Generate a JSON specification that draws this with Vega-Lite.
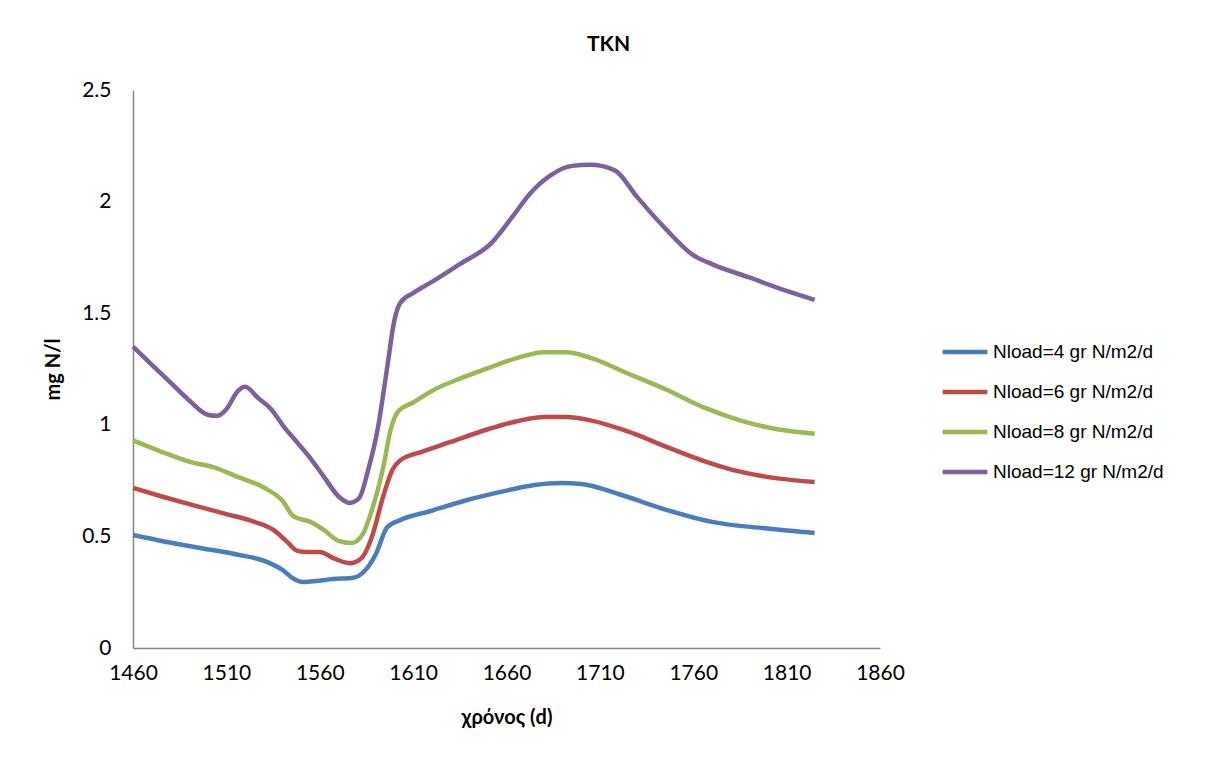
{
  "$schema": "https://vega.github.io/schema/vega-lite/v6.json",
  "width": 747,
  "height": 558,
  "autosize": "none",
  "padding": {"left": 133, "top": 90, "right": 333, "bottom": 111},
  "background": "white",
  "title": {"text": "TKN", "font": "Lato", "fontSize": 21, "fontWeight": "bold", "color": "#000000", "anchor": "middle", "dx": 102, "offset": 24},
  "datasets": {
    "tkn": [
      {"s": "Nload=4 gr N/m2/d", "d": 1460, "v": 0.506},
      {"s": "Nload=4 gr N/m2/d", "d": 1478, "v": 0.475},
      {"s": "Nload=4 gr N/m2/d", "d": 1496, "v": 0.448},
      {"s": "Nload=4 gr N/m2/d", "d": 1515, "v": 0.42},
      {"s": "Nload=4 gr N/m2/d", "d": 1532, "v": 0.385},
      {"s": "Nload=4 gr N/m2/d", "d": 1540, "v": 0.35},
      {"s": "Nload=4 gr N/m2/d", "d": 1546, "v": 0.31},
      {"s": "Nload=4 gr N/m2/d", "d": 1551, "v": 0.296},
      {"s": "Nload=4 gr N/m2/d", "d": 1558, "v": 0.3},
      {"s": "Nload=4 gr N/m2/d", "d": 1567, "v": 0.309},
      {"s": "Nload=4 gr N/m2/d", "d": 1578, "v": 0.315},
      {"s": "Nload=4 gr N/m2/d", "d": 1584, "v": 0.345},
      {"s": "Nload=4 gr N/m2/d", "d": 1590, "v": 0.42},
      {"s": "Nload=4 gr N/m2/d", "d": 1596, "v": 0.54},
      {"s": "Nload=4 gr N/m2/d", "d": 1603, "v": 0.573},
      {"s": "Nload=4 gr N/m2/d", "d": 1620, "v": 0.615},
      {"s": "Nload=4 gr N/m2/d", "d": 1639, "v": 0.663},
      {"s": "Nload=4 gr N/m2/d", "d": 1660, "v": 0.705},
      {"s": "Nload=4 gr N/m2/d", "d": 1675, "v": 0.73},
      {"s": "Nload=4 gr N/m2/d", "d": 1689, "v": 0.739},
      {"s": "Nload=4 gr N/m2/d", "d": 1700, "v": 0.735},
      {"s": "Nload=4 gr N/m2/d", "d": 1720, "v": 0.69},
      {"s": "Nload=4 gr N/m2/d", "d": 1746, "v": 0.618},
      {"s": "Nload=4 gr N/m2/d", "d": 1770, "v": 0.565},
      {"s": "Nload=4 gr N/m2/d", "d": 1800, "v": 0.535},
      {"s": "Nload=4 gr N/m2/d", "d": 1825, "v": 0.515},

      {"s": "Nload=6 gr N/m2/d", "d": 1460, "v": 0.717},
      {"s": "Nload=6 gr N/m2/d", "d": 1475, "v": 0.68},
      {"s": "Nload=6 gr N/m2/d", "d": 1492, "v": 0.64},
      {"s": "Nload=6 gr N/m2/d", "d": 1510, "v": 0.6},
      {"s": "Nload=6 gr N/m2/d", "d": 1525, "v": 0.565},
      {"s": "Nload=6 gr N/m2/d", "d": 1535, "v": 0.53},
      {"s": "Nload=6 gr N/m2/d", "d": 1542, "v": 0.48},
      {"s": "Nload=6 gr N/m2/d", "d": 1548, "v": 0.435},
      {"s": "Nload=6 gr N/m2/d", "d": 1553, "v": 0.43},
      {"s": "Nload=6 gr N/m2/d", "d": 1560, "v": 0.43},
      {"s": "Nload=6 gr N/m2/d", "d": 1568, "v": 0.4},
      {"s": "Nload=6 gr N/m2/d", "d": 1576, "v": 0.38},
      {"s": "Nload=6 gr N/m2/d", "d": 1582, "v": 0.4},
      {"s": "Nload=6 gr N/m2/d", "d": 1588, "v": 0.5},
      {"s": "Nload=6 gr N/m2/d", "d": 1594, "v": 0.68},
      {"s": "Nload=6 gr N/m2/d", "d": 1599, "v": 0.8},
      {"s": "Nload=6 gr N/m2/d", "d": 1603, "v": 0.84},
      {"s": "Nload=6 gr N/m2/d", "d": 1615, "v": 0.88},
      {"s": "Nload=6 gr N/m2/d", "d": 1630, "v": 0.923},
      {"s": "Nload=6 gr N/m2/d", "d": 1650, "v": 0.98},
      {"s": "Nload=6 gr N/m2/d", "d": 1665, "v": 1.015},
      {"s": "Nload=6 gr N/m2/d", "d": 1680, "v": 1.035},
      {"s": "Nload=6 gr N/m2/d", "d": 1692, "v": 1.035},
      {"s": "Nload=6 gr N/m2/d", "d": 1705, "v": 1.02},
      {"s": "Nload=6 gr N/m2/d", "d": 1725, "v": 0.97},
      {"s": "Nload=6 gr N/m2/d", "d": 1746, "v": 0.9},
      {"s": "Nload=6 gr N/m2/d", "d": 1765, "v": 0.84},
      {"s": "Nload=6 gr N/m2/d", "d": 1785, "v": 0.79},
      {"s": "Nload=6 gr N/m2/d", "d": 1805, "v": 0.76},
      {"s": "Nload=6 gr N/m2/d", "d": 1825, "v": 0.744},

      {"s": "Nload=8 gr N/m2/d", "d": 1460, "v": 0.93},
      {"s": "Nload=8 gr N/m2/d", "d": 1475, "v": 0.88},
      {"s": "Nload=8 gr N/m2/d", "d": 1490, "v": 0.835},
      {"s": "Nload=8 gr N/m2/d", "d": 1503, "v": 0.81},
      {"s": "Nload=8 gr N/m2/d", "d": 1515, "v": 0.77},
      {"s": "Nload=8 gr N/m2/d", "d": 1532, "v": 0.71},
      {"s": "Nload=8 gr N/m2/d", "d": 1540, "v": 0.66},
      {"s": "Nload=8 gr N/m2/d", "d": 1546, "v": 0.59},
      {"s": "Nload=8 gr N/m2/d", "d": 1555, "v": 0.565},
      {"s": "Nload=8 gr N/m2/d", "d": 1562, "v": 0.53},
      {"s": "Nload=8 gr N/m2/d", "d": 1570, "v": 0.48},
      {"s": "Nload=8 gr N/m2/d", "d": 1577, "v": 0.47},
      {"s": "Nload=8 gr N/m2/d", "d": 1583, "v": 0.51},
      {"s": "Nload=8 gr N/m2/d", "d": 1588, "v": 0.62},
      {"s": "Nload=8 gr N/m2/d", "d": 1594, "v": 0.81},
      {"s": "Nload=8 gr N/m2/d", "d": 1598, "v": 0.98},
      {"s": "Nload=8 gr N/m2/d", "d": 1602, "v": 1.06},
      {"s": "Nload=8 gr N/m2/d", "d": 1610, "v": 1.1},
      {"s": "Nload=8 gr N/m2/d", "d": 1621, "v": 1.156},
      {"s": "Nload=8 gr N/m2/d", "d": 1636, "v": 1.21},
      {"s": "Nload=8 gr N/m2/d", "d": 1652, "v": 1.26},
      {"s": "Nload=8 gr N/m2/d", "d": 1666, "v": 1.3},
      {"s": "Nload=8 gr N/m2/d", "d": 1680, "v": 1.325},
      {"s": "Nload=8 gr N/m2/d", "d": 1692, "v": 1.325},
      {"s": "Nload=8 gr N/m2/d", "d": 1705, "v": 1.3},
      {"s": "Nload=8 gr N/m2/d", "d": 1725, "v": 1.23},
      {"s": "Nload=8 gr N/m2/d", "d": 1746, "v": 1.156},
      {"s": "Nload=8 gr N/m2/d", "d": 1765, "v": 1.08},
      {"s": "Nload=8 gr N/m2/d", "d": 1785, "v": 1.02},
      {"s": "Nload=8 gr N/m2/d", "d": 1805, "v": 0.98},
      {"s": "Nload=8 gr N/m2/d", "d": 1825, "v": 0.96},

      {"s": "Nload=12 gr N/m2/d", "d": 1460, "v": 1.35},
      {"s": "Nload=12 gr N/m2/d", "d": 1470, "v": 1.27},
      {"s": "Nload=12 gr N/m2/d", "d": 1480, "v": 1.19},
      {"s": "Nload=12 gr N/m2/d", "d": 1490, "v": 1.11},
      {"s": "Nload=12 gr N/m2/d", "d": 1500, "v": 1.045},
      {"s": "Nload=12 gr N/m2/d", "d": 1505, "v": 1.04},
      {"s": "Nload=12 gr N/m2/d", "d": 1510, "v": 1.07},
      {"s": "Nload=12 gr N/m2/d", "d": 1516, "v": 1.15},
      {"s": "Nload=12 gr N/m2/d", "d": 1520, "v": 1.17},
      {"s": "Nload=12 gr N/m2/d", "d": 1527, "v": 1.12},
      {"s": "Nload=12 gr N/m2/d", "d": 1534, "v": 1.07},
      {"s": "Nload=12 gr N/m2/d", "d": 1540, "v": 1.0},
      {"s": "Nload=12 gr N/m2/d", "d": 1548, "v": 0.92},
      {"s": "Nload=12 gr N/m2/d", "d": 1555, "v": 0.85},
      {"s": "Nload=12 gr N/m2/d", "d": 1562, "v": 0.77},
      {"s": "Nload=12 gr N/m2/d", "d": 1570, "v": 0.68},
      {"s": "Nload=12 gr N/m2/d", "d": 1576, "v": 0.65},
      {"s": "Nload=12 gr N/m2/d", "d": 1581, "v": 0.67},
      {"s": "Nload=12 gr N/m2/d", "d": 1586, "v": 0.8},
      {"s": "Nload=12 gr N/m2/d", "d": 1591, "v": 0.98},
      {"s": "Nload=12 gr N/m2/d", "d": 1596, "v": 1.25},
      {"s": "Nload=12 gr N/m2/d", "d": 1600, "v": 1.47},
      {"s": "Nload=12 gr N/m2/d", "d": 1603, "v": 1.545},
      {"s": "Nload=12 gr N/m2/d", "d": 1610, "v": 1.59},
      {"s": "Nload=12 gr N/m2/d", "d": 1620, "v": 1.64},
      {"s": "Nload=12 gr N/m2/d", "d": 1635, "v": 1.72},
      {"s": "Nload=12 gr N/m2/d", "d": 1652, "v": 1.815},
      {"s": "Nload=12 gr N/m2/d", "d": 1663, "v": 1.93},
      {"s": "Nload=12 gr N/m2/d", "d": 1673, "v": 2.04},
      {"s": "Nload=12 gr N/m2/d", "d": 1684, "v": 2.12},
      {"s": "Nload=12 gr N/m2/d", "d": 1695, "v": 2.16},
      {"s": "Nload=12 gr N/m2/d", "d": 1705, "v": 2.165},
      {"s": "Nload=12 gr N/m2/d", "d": 1718, "v": 2.14},
      {"s": "Nload=12 gr N/m2/d", "d": 1730, "v": 2.02},
      {"s": "Nload=12 gr N/m2/d", "d": 1745, "v": 1.88},
      {"s": "Nload=12 gr N/m2/d", "d": 1760, "v": 1.76},
      {"s": "Nload=12 gr N/m2/d", "d": 1770, "v": 1.72},
      {"s": "Nload=12 gr N/m2/d", "d": 1790, "v": 1.66},
      {"s": "Nload=12 gr N/m2/d", "d": 1810, "v": 1.6},
      {"s": "Nload=12 gr N/m2/d", "d": 1825, "v": 1.56}
    ]
  },
  "data": {"name": "tkn"},
  "mark": {"type": "line", "interpolate": "monotone", "strokeWidth": 4.5},
  "encoding": {
    "x": {
      "field": "d", "type": "quantitative",
      "scale": {"domain": [1460, 1860], "nice": false, "zero": false},
      "axis": {
        "title": "χρόνος (d)", "values": [1460, 1510, 1560, 1610, 1660, 1710, 1760, 1810, 1860], "format": "d",
        "grid": false, "ticks": false, "domainColor": "#888888", "domainWidth": 1.5,
        "labelFlush": false, "labelBound": false, "labelOverlap": false,
        "labelFont": "Lato", "labelFontSize": 21, "labelColor": "#000000", "labelPadding": 14,
        "titleFont": "Lato", "titleFontSize": 20, "titleFontWeight": "bold", "titleColor": "#000000", "titlePadding": 24
      }
    },
    "y": {
      "field": "v", "type": "quantitative",
      "scale": {"domain": [0, 2.5], "nice": false},
      "axis": {
        "title": "mg N/l", "values": [0, 0.5, 1, 1.5, 2, 2.5], "format": ".1~f",
        "grid": false, "ticks": false, "domainColor": "#888888", "domainWidth": 1.5,
        "labelFlush": false, "labelBound": false,
        "labelFont": "Lato", "labelFontSize": 21, "labelColor": "#000000", "labelPadding": 22,
        "titleFont": "Lato", "titleFontSize": 20, "titleFontWeight": "bold", "titleColor": "#000000", "titlePadding": 18
      }
    },
    "color": {
      "field": "s", "type": "nominal",
      "sort": ["Nload=4 gr N/m2/d", "Nload=6 gr N/m2/d", "Nload=8 gr N/m2/d", "Nload=12 gr N/m2/d"],
      "scale": {
        "domain": ["Nload=4 gr N/m2/d", "Nload=6 gr N/m2/d", "Nload=8 gr N/m2/d", "Nload=12 gr N/m2/d"],
        "range": ["#4A7EBB", "#BE4B48", "#98B954", "#7D60A0"]
      },
      "legend": {
        "title": null, "orient": "none", "legendX": 807, "legendY": 242,
        "symbolType": "stroke", "symbolSize": 2000, "symbolStrokeWidth": 4.5,
        "labelFont": "Liberation Sans", "labelFontSize": 19, "labelColor": "#000000", "labelLimit": 0,
        "clipHeight": 40, "rowPadding": 0, "labelOffset": 3
      }
    }
  },
  "config": {"view": {"stroke": null}}
}
